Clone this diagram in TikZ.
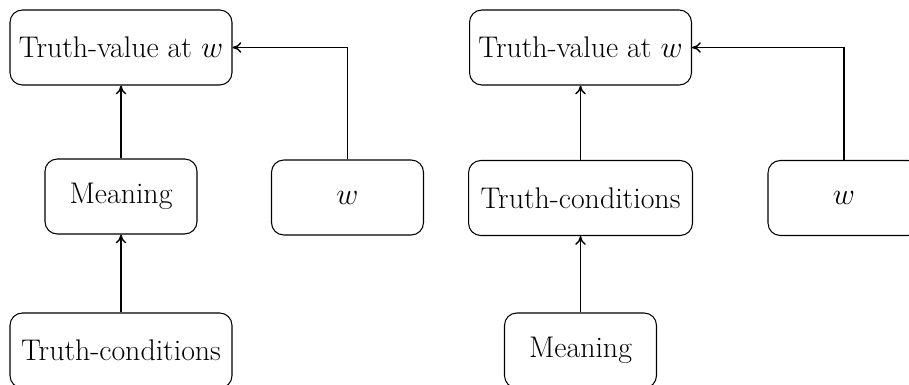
\documentclass[tikz,border=0pt]{standalone}
\usetikzlibrary{arrows.meta}
\begin{document}
\begin{tikzpicture}[x=0.02cm,y=-0.02cm,
  box/.style={draw, rounded corners=7pt, line width=0.6pt, minimum height=1.5cm, inner sep=0pt, font=\fontsize{17}{20}\selectfont},
  wide/.style={box, minimum width=4.44cm},
  narrow/.style={box, minimum width=3.04cm},
  link/.style={-{To[length=5pt,width=6pt]}, line width=0.8pt}]
\useasboundingbox (0,0) rectangle (909,385);
\clip (0,0) rectangle (909,385);
% left diagram
\node[wide] (tv1) at (121,47.5) {Truth-value at $w$};
\node[narrow] (m1) at (121,196.5) {Meaning};
\node[narrow] (w1) at (347.5,197.5) {$w$};
\node[wide] (tc1) at (121,350.5) {Truth-conditions};
\draw[link] (m1.north) -- (tv1.south);
\draw[link] (tc1.north) -- (m1.south);
\draw[link] (w1.north) |- (tv1.east);
% right diagram
\node[wide] (tv2) at (580.5,47.5) {Truth-value at $w$};
\node[box, minimum width=4.48cm] (tc2) at (580.5,198) {Truth-conditions};
\node[narrow] (w2) at (844,198) {$w$};
\node[narrow] (m2) at (580.5,350.5) {Meaning};
\draw[link] (tc2.north) -- (tv2.south);
\draw[link] (m2.north) -- (tc2.south);
\draw[link] (w2.north) |- (tv2.east);
\end{tikzpicture}
\end{document}
